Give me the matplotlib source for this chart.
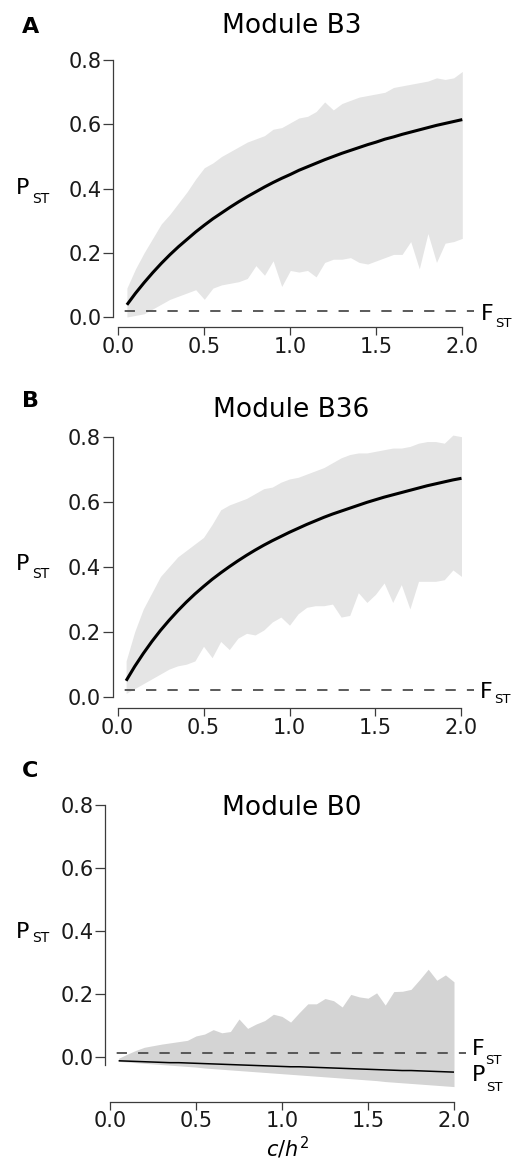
import numpy as np
import matplotlib
matplotlib.use("Agg")
import matplotlib.pyplot as plt

plt.rcParams['font.family'] = 'DejaVu Sans'
plt.rcParams['mathtext.fontset'] = 'dejavusans'
plt.rcParams['lines.scale_dashes'] = False

W, H = 519, 1171

# c/h^2 grid of the simulation
c_h2 = np.round(np.linspace(0.05, 2.0, 40), 2)

# Module B3
b3_mean = [0.038, 0.074, 0.107, 0.138, 0.167, 0.194, 0.219, 0.242, 0.265, 0.286,
           0.306, 0.324, 0.342, 0.359, 0.375, 0.390, 0.405, 0.419, 0.432, 0.444,
           0.457, 0.468, 0.479, 0.490, 0.500, 0.510, 0.519, 0.528, 0.537, 0.545,
           0.554, 0.561, 0.569, 0.576, 0.583, 0.590, 0.597, 0.603, 0.609, 0.615]
b3_hi = [0.09, 0.15, 0.20, 0.245, 0.29, 0.32, 0.355, 0.39, 0.43, 0.465,
         0.48, 0.50, 0.515, 0.53, 0.545, 0.555, 0.565, 0.585, 0.59, 0.605,
         0.62, 0.625, 0.64, 0.67, 0.645, 0.665, 0.675, 0.685, 0.69, 0.695,
         0.70, 0.715, 0.72, 0.725, 0.73, 0.735, 0.745, 0.74, 0.745, 0.765]
b3_lo = [0.0, 0.005, 0.01, 0.025, 0.04, 0.055, 0.065, 0.075, 0.085, 0.055,
         0.09, 0.10, 0.105, 0.11, 0.12, 0.16, 0.13, 0.175, 0.095, 0.145,
         0.14, 0.145, 0.125, 0.17, 0.18, 0.18, 0.185, 0.17, 0.165, 0.175,
         0.185, 0.195, 0.195, 0.235, 0.15, 0.26, 0.17, 0.23, 0.235, 0.245]

# Module B36
b36_mean = [0.049, 0.093, 0.133, 0.170, 0.204, 0.235, 0.264, 0.291, 0.316, 0.339,
            0.361, 0.381, 0.400, 0.418, 0.435, 0.451, 0.466, 0.480, 0.493, 0.506,
            0.518, 0.530, 0.541, 0.552, 0.562, 0.571, 0.580, 0.589, 0.598, 0.606,
            0.614, 0.621, 0.628, 0.635, 0.642, 0.649, 0.655, 0.661, 0.667, 0.672]
b36_hi = [0.11, 0.20, 0.27, 0.32, 0.37, 0.40, 0.43, 0.45, 0.47, 0.49,
          0.53, 0.575, 0.59, 0.60, 0.61, 0.625, 0.64, 0.645, 0.66, 0.67,
          0.675, 0.685, 0.695, 0.705, 0.72, 0.735, 0.745, 0.75, 0.75, 0.755,
          0.76, 0.765, 0.765, 0.77, 0.78, 0.785, 0.785, 0.78, 0.805, 0.80]
b36_lo = [0.01, 0.025, 0.04, 0.055, 0.07, 0.085, 0.095, 0.10, 0.11, 0.155,
          0.12, 0.17, 0.145, 0.18, 0.195, 0.19, 0.205, 0.23, 0.245, 0.22,
          0.255, 0.275, 0.28, 0.28, 0.285, 0.245, 0.25, 0.32, 0.29, 0.315,
          0.35, 0.29, 0.345, 0.27, 0.355, 0.355, 0.355, 0.36, 0.39, 0.37]

# Module B0
b0_mean = [-0.013, -0.014, -0.015, -0.016, -0.017, -0.018, -0.019, -0.019, -0.020, -0.021,
           -0.022, -0.023, -0.024, -0.025, -0.026, -0.027, -0.028, -0.029, -0.030, -0.031,
           -0.032, -0.032, -0.033, -0.034, -0.035, -0.036, -0.037, -0.038, -0.039, -0.040,
           -0.041, -0.042, -0.043, -0.044, -0.044, -0.045, -0.046, -0.047, -0.048, -0.049]
b0_hi = [-0.005, 0.008, 0.02, 0.03, 0.035, 0.04, 0.044, 0.048, 0.052, 0.066,
         0.072, 0.086, 0.076, 0.08, 0.12, 0.09, 0.104, 0.115, 0.135, 0.128,
         0.11, 0.14, 0.168, 0.168, 0.185, 0.178, 0.158, 0.198, 0.19, 0.186,
         0.203, 0.164, 0.207, 0.208, 0.214, 0.245, 0.278, 0.243, 0.26, 0.238]
b0_lo = [-0.015, -0.017, -0.019, -0.021, -0.023, -0.025, -0.027, -0.029, -0.031, -0.033,
         -0.036, -0.038, -0.040, -0.042, -0.044, -0.046, -0.048, -0.050, -0.052, -0.054,
         -0.056, -0.058, -0.060, -0.062, -0.064, -0.066, -0.068, -0.070, -0.072, -0.074,
         -0.076, -0.079, -0.081, -0.083, -0.085, -0.087, -0.089, -0.091, -0.093, -0.095]

fst_b3, fst_b36, fst_b0 = 0.019, 0.022, 0.013

y_ticks = [0.0, 0.2, 0.4, 0.6, 0.8]
y_ticklabels = ['0.0', '0.2', '0.4', '0.6', '0.8']
x_ticks = [0.0, 0.5, 1.0, 1.5, 2.0]
x_ticklabels = ['0.0', '0.5', '1.0', '1.5', '2.0']

AXIS_COL = '#3c3c3c'

fig = plt.figure(figsize=(W / 100, H / 100), dpi=100)


def ftext(x, y, s, **kw):
    # place text using pixel coordinates (from top-left)
    return fig.text(x / W, 1 - y / H, s, **kw)


def draw_panel(ox, oy, sy, ymin, ymax, mean, lo, hi, fst, band_col, lw,
               xaxis_y, spine_lo):
    sx = 172.0
    x0, x1 = -0.08, 2.1
    left, right = ox + sx * x0, ox + sx * x1
    top, bottom = oy - sy * ymax, oy - sy * ymin
    ax = fig.add_axes([left / W, 1 - bottom / H, (right - left) / W, (bottom - top) / H])
    ax.set_xlim(x0, x1)
    ax.set_ylim(ymin, ymax)
    ax.patch.set_alpha(0)

    ax.fill_between(c_h2, lo, hi, color=band_col, lw=0, zorder=1)
    ax.plot(c_h2, mean, color='black', lw=lw, zorder=3, solid_capstyle='butt')
    ax.plot([-0.029, 2.07], [fst, fst], color='#4d4d4d', lw=1.3,
            linestyle=(7.0, (7.4, 8.0)), zorder=2, clip_on=False)

    for s in ['top', 'right']:
        ax.spines[s].set_visible(False)
    ax.spines['left'].set_position(('data', -0.029))
    ax.spines['left'].set_bounds(spine_lo, 0.8)
    ax.spines['bottom'].set_position(('data', xaxis_y))
    ax.spines['bottom'].set_bounds(0, 2)
    for s in ['left', 'bottom']:
        ax.spines[s].set_color(AXIS_COL)
        ax.spines[s].set_linewidth(0.9)

    ax.set_yticks(y_ticks)
    ax.set_yticklabels(y_ticklabels)
    ax.set_xticks(x_ticks)
    ax.set_xticklabels(x_ticklabels)
    ax.tick_params(axis='y', length=7.0, pad=1.2, labelsize=15, width=0.9,
                   color=AXIS_COL, labelcolor='#1a1a1a')
    ax.tick_params(axis='x', length=5.5, pad=1.5, labelsize=15, width=0.9,
                   color=AXIS_COL, labelcolor='#1a1a1a')
    return ax


# panel A
draw_panel(118.3, 317.0, 321.0, -0.045, 0.82, b3_mean, b3_lo, b3_hi, fst_b3,
           '#e5e5e5', 2.2, -0.032, 0.0)
# panel B
draw_panel(117.5, 696.7, 325.0, -0.045, 0.82, b36_mean, b36_lo, b36_hi, fst_b36,
           '#e5e5e5', 2.2, -0.036, 0.0)
# panel C
draw_panel(110.0, 1056.7, 314.6, -0.16, 0.83, b0_mean, b0_lo, b0_hi, fst_b0,
           '#d4d4d4', 1.1, -0.143, -0.025)

# panel letters and titles
for letter, base in [('A', 33.3), ('B', 406.7), ('C', 776.7)]:
    ftext(21.7, base, letter, fontsize=16, fontweight='bold', ha='left', va='baseline')
for title, cx, base in [('Module B3', 292, 33.3), ('Module B36', 291, 416.7),
                        ('Module B0', 292, 815.0)]:
    ftext(cx, base, title, fontsize=19, ha='center', va='baseline')

# y labels P_ST
for pb, sb in [(194.5, 203.0), (570.0, 578.3), (938.3, 942.0)]:
    ftext(16, pb, 'P', fontsize=16, ha='left', va='baseline')
    ftext(31.7, sb, 'ST', fontsize=10, ha='left', va='baseline')

# F_ST labels on the dashed lines
for fx, fb, sb in [(481.0, 320.0, 326.7), (480.0, 698.3, 703.3), (471.5, 1055.0, 1064.5)]:
    ftext(fx, fb, 'F', fontsize=16, ha='left', va='baseline')
    ftext(fx + 14, sb, 'ST', fontsize=9.5, ha='left', va='baseline')

# P_ST label on the B0 line
ftext(471.5, 1081.0, 'P', fontsize=16, ha='left', va='baseline')
ftext(486.5, 1091.0, 'ST', fontsize=9.5, ha='left', va='baseline')

# x axis label
ftext(288, 1156.7, r'$c/h^{\mathrm{2}}$', fontsize=15, ha='center', va='baseline')

fig.savefig('out.png', dpi=100)
